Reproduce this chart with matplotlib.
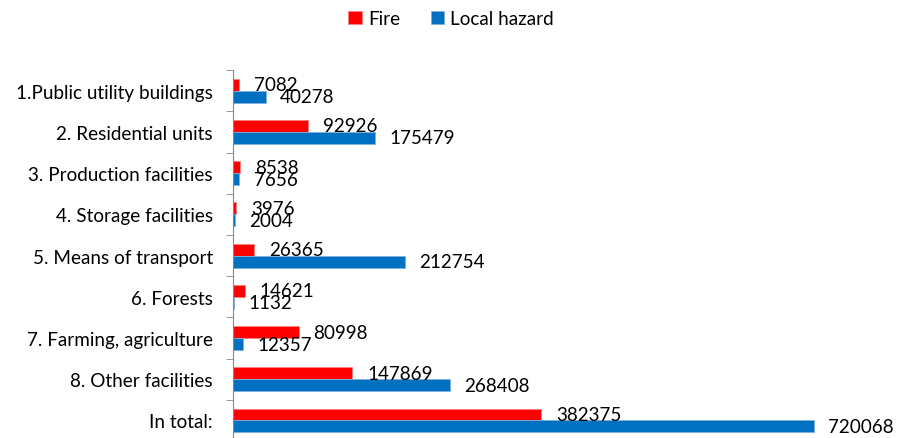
import matplotlib
matplotlib.use("Agg")
import matplotlib.pyplot as plt
import numpy as np

categories = ["1.Public utility buildings", "2. Residential units", "3. Production facilities",
              "4. Storage facilities", "5. Means of transport", "6. Forests",
              "7. Farming, agriculture", "8. Other facilities", "In total:"]
fire = [7082, 92926, 8538, 3976, 26365, 14621, 80998, 147869, 382375]
local_hazard = [40278, 175479, 7656, 2004, 212754, 1132, 12357, 268408, 720068]

plt.rcParams['font.family'] = ['Lato', 'DejaVu Sans']
fs = 13.6

fig = plt.figure(figsize=(8.97, 4.39), dpi=100)
ax = fig.add_axes([0.26, -0.007, 0.719, 0.845])

n = len(categories)
y = np.arange(n)[::-1]
h = 0.29

b1 = ax.barh(y + h / 2, fire, height=h, color="#FF0000", edgecolor="#FF8080", linewidth=0.6, label="Fire")
b2 = ax.barh(y - h / 2, local_hazard, height=h, color="#0070C0", edgecolor="#80B0E0", linewidth=0.6, label="Local hazard")

# value labels at the bar ends
for bars, vals in [(b1, fire), (b2, local_hazard)]:
    for bar, v in zip(bars, vals):
        ax.annotate(str(v), (v, bar.get_y() + bar.get_height() / 2),
                    xytext=(10.5, 0), textcoords="offset points",
                    ha="left", va="center", fontsize=fs, color="black")

ax.set_xlim(0, 800000)
ax.set_ylim(-0.5, n - 0.5)
ax.set_yticks(y)
ax.set_yticklabels(categories, fontsize=fs)
ax.tick_params(axis="y", which="major", length=0, pad=14.5)
ax.set_yticks(np.arange(n + 1) - 0.5, minor=True)
ax.tick_params(axis="y", which="minor", length=5, color="#868686", direction="out")
ax.set_xticks([])

for s in ["top", "right", "bottom"]:
    ax.spines[s].set_visible(False)
ax.spines["left"].set_color("#868686")

fig.legend(handles=[b1, b2], loc="center", bbox_to_anchor=(0.503, 0.955), ncol=2,
           frameon=False, fontsize=fs, handlelength=0.7, handleheight=0.7,
           handletextpad=0.35, columnspacing=1.6)

fig.savefig("out.png", dpi=100)
